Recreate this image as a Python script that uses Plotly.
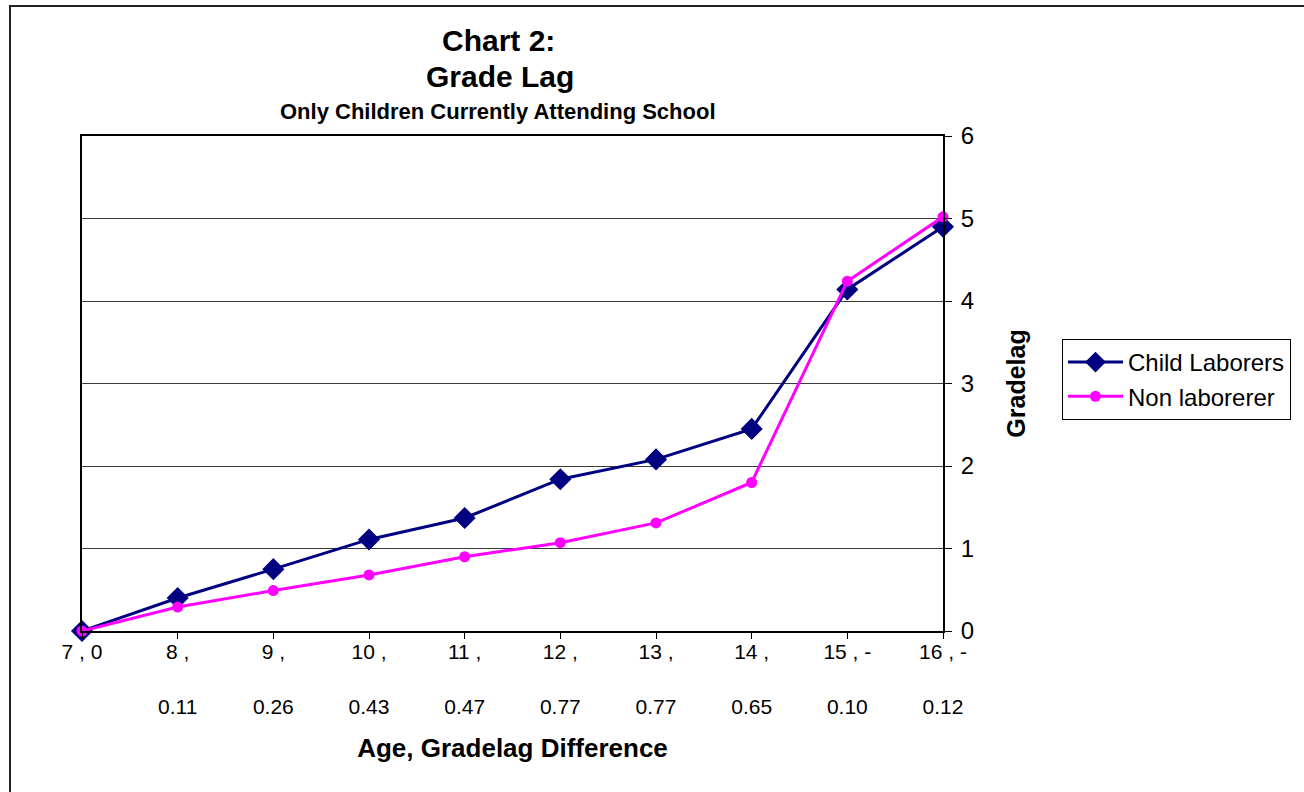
import plotly.graph_objects as go

# Age of child and grade-lag gap (child laborers minus non laborers)
ages = [7, 8, 9, 10, 11, 12, 13, 14, 15, 16]
gaps = ["0", "0.11", "0.26", "0.43", "0.47", "0.77", "0.77", "0.65", "-0.10", "-0.12"]

# Average grade lag by group
child_laborers = [0.00, 0.40, 0.75, 1.11, 1.37, 1.84, 2.08, 2.45, 4.14, 4.90]
non_laborers = [0.00, 0.29, 0.49, 0.68, 0.90, 1.07, 1.31, 1.80, 4.24, 5.02]

y_ticks = [0, 1, 2, 3, 4, 5, 6]


def age_label(age, gap):
    """Two-row category label: 'age ,' over the gap, sign kept on the first row."""
    if gap == "0":
        return f"{age} , {gap}"
    if gap.startswith("-"):
        return f"{age} , -<br><br>{gap[1:]}"
    return f"{age} ,<br><br>{gap}"


categories = [age_label(a, g) for a, g in zip(ages, gaps)]

FONT = "Arial, Liberation Sans, sans-serif"

fig = go.Figure()
fig.add_trace(go.Scatter(
    x=categories, y=child_laborers, name="Child Laborers",
    mode="lines+markers",
    line=dict(color="#000080", width=3),
    marker=dict(symbol="diamond", size=17, color="#000080"),
    cliponaxis=False,
))
fig.add_trace(go.Scatter(
    x=categories, y=non_laborers, name="Non laborerer",
    mode="lines+markers",
    line=dict(color="#FF00FF", width=3),
    marker=dict(symbol="circle", size=11, color="#FF00FF"),
    cliponaxis=False,
))

L, R, T, B = 82, 943, 136, 631
W, H = 1304, 792
pw, ph = R - L, B - T


def px_x(x):
    return (x - L) / pw


def px_y(y):
    return (B - y) / ph


fig.update_layout(
    width=W, height=H,
    margin=dict(l=L, r=W - R, t=T, b=H - B, autoexpand=False),
    paper_bgcolor="white", plot_bgcolor="white",
    font=dict(family=FONT, size=21, color="black"),
    showlegend=True,
    legend=dict(
        x=px_x(1062), y=px_y(339), xanchor="left", yanchor="top",
        bordercolor="black", borderwidth=1, bgcolor="white",
        font=dict(family=FONT, size=24, color="black"),
        itemwidth=55, tracegroupgap=0,
    ),
    xaxis=dict(
        type="category", range=[0, len(categories) - 1],
        showgrid=False, zeroline=False,
        showline=True, linecolor="black", linewidth=2, mirror=True,
        ticks="outside", ticklen=6, tickcolor="black", tickwidth=1,
        ticklabelstandoff=-5,
        tickfont=dict(family=FONT, size=21),
        title=dict(text="<b>Age, Gradelag Difference</b>",
                   font=dict(family=FONT, size=26), standoff=22),
    ),
    yaxis=dict(
        side="right", range=[0, 6], tickvals=y_ticks,
        showgrid=True, gridcolor="#3a3a3a", gridwidth=1, zeroline=False,
        showline=True, linecolor="black", linewidth=2, mirror=True,
        ticks="outside", ticklen=7, tickcolor="black", tickwidth=1,
        ticklabelstandoff=4,
        tickfont=dict(family=FONT, size=24),
        title=dict(text="<b>Gradelag</b>",
                   font=dict(family=FONT, size=25), standoff=34),
    ),
    annotations=[
        dict(text="<b>Chart 2:</b>", x=px_x(498), y=px_y(40),
             xref="paper", yref="paper", showarrow=False,
             xanchor="center", yanchor="middle",
             font=dict(family=FONT, size=30)),
        dict(text="<b>Grade Lag</b>", x=px_x(500), y=px_y(77),
             xref="paper", yref="paper", showarrow=False,
             xanchor="center", yanchor="middle",
             font=dict(family=FONT, size=30)),
        dict(text="<b>Only Children Currently Attending School</b>",
             x=px_x(498), y=px_y(112),
             xref="paper", yref="paper", showarrow=False,
             xanchor="center", yanchor="middle",
             font=dict(family=FONT, size=22)),
    ],
    shapes=[
        # outer chart border
        dict(type="rect", xref="paper", yref="paper",
             x0=px_x(10), x1=px_x(1320), y0=px_y(6), y1=px_y(810),
             line=dict(color="#222222", width=2), fillcolor="rgba(0,0,0,0)",
             layer="below"),
    ],
)

fig.write_html("out.html")
